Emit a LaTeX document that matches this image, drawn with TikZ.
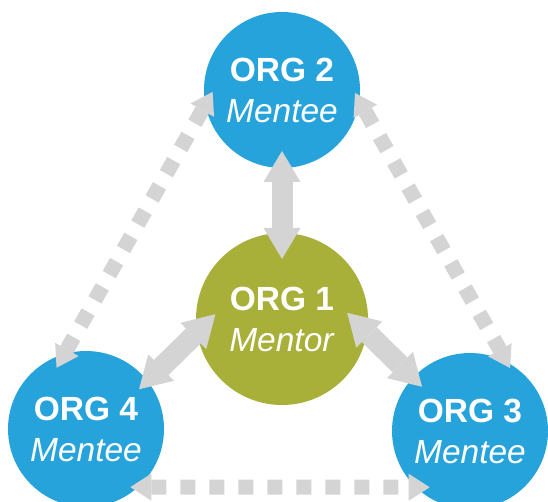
\documentclass[tikz,border=0pt]{standalone}
\usepackage{fontspec}
\setmainfont{Liberation Sans}
\usetikzlibrary{arrows.meta}
\definecolor{orgblue}{RGB}{38,163,218}
\definecolor{orggreen}{RGB}{168,176,58}
\definecolor{linkgray}{RGB}{212,212,212}
\tikzset{
    org/.style = {circle, inner sep=0pt, minimum size=156pt, text=white, align=center,
                  font=\fontsize{33.5}{41}\selectfont},
    mentee/.style = {org, fill=orgblue},
    mentor/.style = {org, fill=orggreen, minimum size=172pt},
    solidlink/.style = {draw=linkgray, line width=21pt,
                  {Triangle[width=37pt, length=31pt, line width=0pt]}-{Triangle[width=37pt, length=31pt, line width=0pt]}},
    dotlink/.style = {draw=linkgray, line width=15pt, dash pattern=on 15pt off 14pt,
                  {Triangle[width=27pt, length=21pt, line width=0pt]}-{Triangle[width=27pt, length=21pt, line width=0pt]}}
}
\begin{document}
\begin{tikzpicture}[x=1pt, y=-1pt]
    \useasboundingbox (0,0) rectangle (548,502);
    % organisations
    \node[mentee] (org2) at (282,90)  {\textbf{ORG 2}\\\textit{Mentee}};
    \node[mentor] (org1) at (282,319) {\textbf{ORG 1}\\\textit{Mentor}};
    \node[mentee] (org4) at (86,429)  {\textbf{ORG 4}\\\textit{Mentee}};
    \node[mentee] (org3) at (470,431) {\textbf{ORG 3}\\\textit{Mentee}};

    % mentor links
    \draw[solidlink, shorten <=61pt, shorten >=60pt] (org2.center) -- (org1.center);
    \draw[solidlink, shorten <=-26pt, shorten >=-12pt] (org1.189) -- (org4.38);
    \draw[solidlink, shorten <=-28pt, shorten >=-13pt] (org1.351) -- (org3.137);

    % mentee links
    \draw[dotlink, shorten <=-15pt, shorten >=-16pt] (org2.191) -- (org4.106);
    \draw[dotlink, shorten <=-9pt, shorten >=-7pt] (org2.352) -- (org3.62);
    \draw[dotlink, shorten <=-8pt, shorten >=-14pt] (org4.312) -- (org3.226);
\end{tikzpicture}
\end{document}
